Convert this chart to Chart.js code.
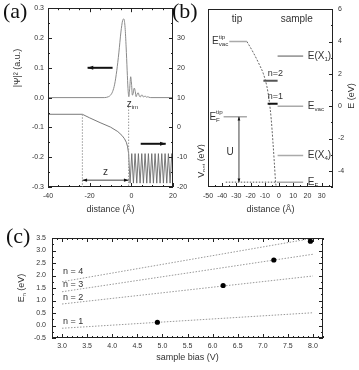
<!DOCTYPE html>
<html>
<head>
<meta charset="utf-8">
<script src="https://cdn.jsdelivr.net/npm/chart.js@4.4.1/dist/chart.umd.min.js"></script>
<style>
  body { margin: 0; background: #fff; }
  #page { position: relative; width: 359px; height: 370px; overflow: hidden; }
  .box { position: absolute; }
</style>
</head>
<body>
<div id="page">
  <div class="box" style="left:0;top:0;width:205px;height:220px"><canvas id="chartA"></canvas></div>
  <div class="box" style="left:170px;top:0;width:189px;height:220px"><canvas id="chartB"></canvas></div>
  <div class="box" style="left:0;top:225px;width:359px;height:145px"><canvas id="chartC"></canvas></div>
</div>
<script>
// (a) |psi|^2 (left axis) and potential (right axis) against distance
const psiDist = [-40, -13, -11, -10, -9, -8, -7, -6, -5, -4.2, -3.6, -3.0, -2.5, -2.0, -1.6, -1.2, -0.8, -0.3, 0.1, 0.5,
  0.9, 1.4, 1.9, 2.3, 2.8, 3.3, 3.8, 4.3, 4.8, 5.3, 5.8, 6.3, 6.8, 7.3, 7.9, 8.5, 9.3, 20];
const psiVal = [0, 0, 0.003, 0.008, 0.02, 0.045, 0.09, 0.15, 0.22, 0.258, 0.264, 0.235, 0.17, 0.09, 0.03, 0.003, 0.03, 0.07, 0.045, 0.008,
  0.015, 0.032, 0.02, 0.003, 0.012, 0.016, 0.006, 0.002, 0.008, 0.008, 0.002, 0.004, 0.005, 0.001, 0.003, 0.001, 0, 0];
const potDist = [-40, -23.5, -20, -15, -10, -6.5, -4.5, -3.3, -2.4, -1.8, -1.3, -0.6, 0.2, 1.0, 1.8, 2.6, 3.4, 4.2, 5.0, 5.8,
  6.6, 7.4, 8.2, 9.0, 9.8, 10.6, 11.4, 12.2, 13.0, 13.8, 14.6, 15.4, 16.2, 17.0, 17.8, 18.6, 19.4, 20];
const potVal = [4.4, 4.4, 3.2, 1.6, 0.1, -1.4, -2.7, -3.8, -5.0, -6.5, -8.8, -18.7, -8.8, -18.7, -8.8, -18.7, -8.8, -18.7, -8.8, -18.7,
  -8.8, -18.7, -8.8, -18.7, -8.8, -18.7, -8.8, -18.7, -8.8, -18.7, -8.8, -18.7, -8.8, -18.7, -8.8, -18.7, -8.8, -14];
const zMarks = [-23.5, -1.3]; // z start, z_im

// (b) energy levels
const levelName = ['E_vac^tip', 'E_F^tip', 'E(X1)', 'n=2', 'n=1', 'E_vac', 'E(X4)', 'E_F'];
const levelE    = [4.0, -0.66, 3.1, 1.57, 0.15, 0.0, -3.05, -4.7];
const levelFrom = [-35, -39, -1, -11, -8, -1, -1, -1.5];
const levelTo   = [-22.6, -22.6, 17, -1, -1, 17, 17, 17];
const profileDist = [-22.6, -18, -14, -11, -8.5, -7, -5.5, -4.3, -3.3, -2.5, -2.0];
const profileE    = [4.0, 3.3, 2.6, 2.0, 1.2, 0.4, -0.8, -2.2, -3.5, -4.6, -5.0];
const efGuide = [-37.5, -2];
const uDist = -28.2;

// (c) E_n against sample bias
const bias   = [4.9, 6.21, 7.22, 7.95];
const energy = [0.13, 1.6, 2.62, 3.37];
const fitName  = ['n = 1', 'n = 2', 'n = 3', 'n = 4'];
const fitBias  = [3.0, 8.0];
const fitStart = [-0.11, 0.86, 1.35, 1.75];
const fitEnd   = [0.51, 1.98, 2.85, 3.49];
const fitLabelE = [0.15, 1.13, 1.62, 2.15];

const SANS = "'Liberation Sans', Arial, Helvetica, sans-serif";
const SERIF = "'Liberation Serif', 'Times New Roman', serif";
const INK = '#222';
const TEXT = '#333';

function axis(pos, min, max, step, size, fmt, pad) {
  return {
    type: 'linear', position: pos, min: min, max: max,
    grid: { display: false, drawTicks: false },
    border: { display: false },
    ticks: { stepSize: step, autoSkip: false, includeBounds: false, maxRotation: 0,
      padding: pad, color: TEXT, font: { size: 7, family: SANS }, callback: fmt },
    afterFit: (s) => { if (s.isHorizontal()) s.height = size; else s.width = size; }
  };
}

function frame(ctx, a) {
  ctx.save();
  ctx.strokeStyle = INK; ctx.lineWidth = 1;
  ctx.strokeRect(Math.round(a.left) + 0.5, Math.round(a.top) + 0.5,
    Math.round(a.right - a.left) - 1, Math.round(a.bottom - a.top) - 1);
  ctx.restore();
}

function tickMarks(ctx, scale, a, minor, major, sides) {
  ctx.save();
  ctx.strokeStyle = INK; ctx.lineWidth = 1;
  const first = Math.ceil(scale.min / minor - 1e-6);
  const last = Math.floor(scale.max / minor + 1e-6);
  for (let i = first; i <= last; i++) {
    const v = i * minor;
    const isMajor = Math.abs(v / major - Math.round(v / major)) < 1e-6;
    const len = isMajor ? 4 : 2;
    const p = Math.round(scale.getPixelForValue(v)) + 0.5;
    ctx.beginPath();
    sides.forEach(s => {
      if (s === 'bottom') { ctx.moveTo(p, a.bottom); ctx.lineTo(p, a.bottom - len); }
      if (s === 'top') { ctx.moveTo(p, a.top); ctx.lineTo(p, a.top + len); }
      if (s === 'left') { ctx.moveTo(a.left, p); ctx.lineTo(a.left + len, p); }
      if (s === 'right') { ctx.moveTo(a.right, p); ctx.lineTo(a.right - len, p); }
    });
    ctx.stroke();
  }
  ctx.restore();
}

// parts: [text, 'sup' | 'sub' | undefined, stack on previous part]
function rich(ctx, parts, x, y, size, align) {
  const place = (x0, draw) => {
    let cx = 0, prevStart = 0;
    for (const [t, pos, stack] of parts) {
      const fs = pos ? size * 0.62 : size;
      ctx.font = fs + 'px ' + SANS;
      const w = ctx.measureText(t).width;
      const start = stack ? prevStart : cx;
      const dy = pos === 'sup' ? -size * 0.42 : pos === 'sub' ? size * 0.32 : 0;
      if (draw) ctx.fillText(t, x0 + start, y + dy);
      cx = Math.max(cx, start + w);
      prevStart = start;
    }
    return cx;
  };
  ctx.save();
  ctx.textAlign = 'left'; ctx.textBaseline = 'middle'; ctx.fillStyle = TEXT;
  const w = place(0, false);
  const x0 = align === 'center' ? x - w / 2 : align === 'right' ? x - w : x;
  place(x0, true);
  ctx.restore();
}

function vtitle(ctx, parts, x, y, size) {
  ctx.save();
  ctx.translate(x, y);
  ctx.rotate(-Math.PI / 2);
  rich(ctx, parts, 0, 0, size, 'center');
  ctx.restore();
}

function arrow(ctx, x1, y1, x2, y2, head, both, width) {
  ctx.save();
  ctx.strokeStyle = '#111'; ctx.fillStyle = '#111'; ctx.lineWidth = width;
  ctx.beginPath(); ctx.moveTo(x1, y1); ctx.lineTo(x2, y2); ctx.stroke();
  const tip = (xa, ya, xb, yb) => {
    const ang = Math.atan2(yb - ya, xb - xa);
    ctx.beginPath();
    ctx.moveTo(xb, yb);
    ctx.lineTo(xb - head * Math.cos(ang - 0.35), yb - head * Math.sin(ang - 0.35));
    ctx.lineTo(xb - head * Math.cos(ang + 0.35), yb - head * Math.sin(ang + 0.35));
    ctx.closePath(); ctx.fill();
  };
  tip(x1, y1, x2, y2);
  if (both) tip(x2, y2, x1, y1);
  ctx.restore();
}

function dotted(ctx, x1, y1, x2, y2, color) {
  ctx.save();
  ctx.setLineDash([1.5, 1.5]); ctx.strokeStyle = color; ctx.lineWidth = 1;
  ctx.beginPath(); ctx.moveTo(x1, y1); ctx.lineTo(x2, y2); ctx.stroke();
  ctx.restore();
}

function panelLetter(ctx, t, x, y) {
  ctx.save();
  ctx.font = '22px ' + SERIF; ctx.fillStyle = '#111';
  ctx.textBaseline = 'top'; ctx.textAlign = 'left';
  ctx.fillText(t, x, y);
  ctx.restore();
}

const common = {
  responsive: true, maintainAspectRatio: false, animation: false, events: [],
  plugins: { legend: { display: false }, tooltip: { enabled: false } }
};

// ---------- (a)
const panelA = {
  id: 'panelA',
  afterDraw(chart) {
    const { ctx, chartArea: a, scales: { x, y, y2 } } = chart;
    frame(ctx, a);
    tickMarks(ctx, x, a, 5, 20, ['bottom', 'top']);
    tickMarks(ctx, y, a, 0.05, 0.1, ['left']);
    tickMarks(ctx, y2, a, 5, 10, ['right']);
    const xs = x.getPixelForValue(zMarks[0]), xi = x.getPixelForValue(zMarks[1]);
    dotted(ctx, xs, y2.getPixelForValue(potVal[1]), xs, a.bottom, '#999');
    dotted(ctx, xi, y.getPixelForValue(-0.03), xi, a.bottom, '#999');
    const ya = y.getPixelForValue(-0.277);
    arrow(ctx, xs, ya, xi, ya, 5, true, 0.8);
    rich(ctx, [['z']], (xs + xi) / 2, y.getPixelForValue(-0.25), 10, 'center');
    rich(ctx, [['z'], ['im', 'sub']], xi - 2, y.getPixelForValue(-0.022), 10, 'left');
    arrow(ctx, x.getPixelForValue(-9), y.getPixelForValue(0.1), x.getPixelForValue(-21), y.getPixelForValue(0.1), 6, false, 2);
    arrow(ctx, x.getPixelForValue(4.5), y2.getPixelForValue(-5.5), x.getPixelForValue(16.5), y2.getPixelForValue(-5.5), 6, false, 2);
    panelLetter(ctx, '(a)', 3, 1);
    rich(ctx, [['distance (\u00c5)']], (a.left + a.right) / 2, 210, 9, 'center');
    vtitle(ctx, [['|\u03a8|\u00b2 (a.u.)']], 18, 68, 9);
    vtitle(ctx, [['V'], ['pot', 'sub'], [' (eV)']], 202, 161, 9);
  }
};

new Chart(document.getElementById('chartA'), {
  type: 'line',
  data: {
    datasets: [
      { data: psiDist.map((d, i) => ({ x: d, y: psiVal[i] })), yAxisID: 'y',
        borderColor: '#8a8a8a', borderWidth: 1, pointRadius: 0, cubicInterpolationMode: 'monotone' },
      { data: potDist.map((d, i) => ({ x: d, y: potVal[i] })), yAxisID: 'y2',
        borderColor: '#6a6a6a', borderWidth: 0.9, pointRadius: 0, tension: 0 }
    ]
  },
  options: Object.assign({}, common, {
    layout: { padding: { top: 5, left: 0, right: 0, bottom: 0 } },
    scales: {
      x: axis('bottom', -40, 20, 20, 33, v => String(v), 5),
      y: axis('left', -0.3, 0.3, 0.1, 48, v => v.toFixed(1), 4),
      y2: axis('right', -20, 40, 10, 32, v => (v >= 40 ? '' : String(v)), 4)
    }
  }),
  plugins: [panelA]
});

// ---------- (b)
const levelStyle = [
  ['#aaa', 1.5], ['#aaa', 1.5], ['#555', 1], ['#555', 2],
  ['#111', 2], ['#aaa', 1.5], ['#aaa', 1.5], ['#aaa', 1.5]
];
const levelText = {
  'E_vac^tip': [['E'], ['tip', 'sup'], ['vac', 'sub', true]],
  'E_F^tip': [['E'], ['tip', 'sup'], ['F', 'sub', true]],
  'E(X1)': [['E(X'], ['1', 'sub'], [')']],
  'n=2': [['n=2']],
  'n=1': [['n=1']],
  'E_vac': [['E'], ['vac', 'sub']],
  'E(X4)': [['E(X'], ['4', 'sub'], [')']],
  'E_F': [['E'], ['F', 'sub']]
};

const panelB = {
  id: 'panelB',
  afterDraw(chart) {
    const { ctx, chartArea: a, scales: { x, y } } = chart;
    frame(ctx, a);
    tickMarks(ctx, x, a, 5, 10, ['bottom']);
    tickMarks(ctx, y, a, 1, 2, ['right']);
    const yF = y.getPixelForValue(levelE[7]);
    dotted(ctx, x.getPixelForValue(efGuide[0]), yF, x.getPixelForValue(efGuide[1]), yF, '#555');
    const xu = x.getPixelForValue(uDist);
    arrow(ctx, xu, y.getPixelForValue(levelE[1]), xu, yF, 4, true, 0.8);
    rich(ctx, [['U']], x.getPixelForValue(-34.5), y.getPixelForValue(-2.85), 10, 'center');
    levelName.forEach((name, i) => {
      const yy = y.getPixelForValue(levelE[i]);
      if (name.indexOf('tip') > 0) {
        rich(ctx, levelText[name], x.getPixelForValue(levelFrom[i]) - 1, yy, 10, 'right');
      } else if (name.charAt(0) === 'n') {
        rich(ctx, levelText[name], x.getPixelForValue(-7.9), yy - 7, 9, 'left');
      } else {
        rich(ctx, levelText[name], x.getPixelForValue(20.2), yy, 10, 'left');
      }
    });
    rich(ctx, [['tip']], x.getPixelForValue(-29.6), y.getPixelForValue(5.35), 10, 'center');
    rich(ctx, [['sample']], x.getPixelForValue(12.5), y.getPixelForValue(5.35), 10, 'center');
    panelLetter(ctx, '(b)', 2, 1);
    rich(ctx, [['distance (\u00c5)']], (a.left + a.right) / 2, 210, 9, 'center');
    vtitle(ctx, [['E (eV)']], 182, 96, 9);
  }
};

new Chart(document.getElementById('chartB'), {
  type: 'line',
  data: {
    datasets: levelName.map((name, i) => ({
      label: name,
      data: [{ x: levelFrom[i], y: levelE[i] }, { x: levelTo[i], y: levelE[i] }],
      borderColor: levelStyle[i][0], borderWidth: levelStyle[i][1], pointRadius: 0
    })).concat([{
      label: 'profile',
      data: profileDist.map((d, i) => ({ x: d, y: profileE[i] })),
      borderColor: '#666', borderWidth: 1, borderDash: [2, 1.5], pointRadius: 0,
      cubicInterpolationMode: 'monotone'
    }])
  },
  options: Object.assign({}, common, {
    layout: { padding: { top: 5, left: 38, right: 0, bottom: 0 } },
    scales: {
      x: axis('bottom', -50, 38, 10, 33, v => String(v), 5),
      y: axis('right', -5, 6, 2, 26, v => String(v), 5)
    }
  }),
  plugins: [panelB]
});

// ---------- (c)
const panelC = {
  id: 'panelC',
  afterDraw(chart) {
    const { ctx, chartArea: a, scales: { x, y } } = chart;
    frame(ctx, a);
    tickMarks(ctx, x, a, 0.1, 0.5, ['bottom', 'top']);
    tickMarks(ctx, y, a, 0.25, 0.5, ['left', 'right']);
    fitName.forEach((t, i) => {
      rich(ctx, [[t]], x.getPixelForValue(3.02), y.getPixelForValue(fitLabelE[i]), 9, 'left');
    });
    panelLetter(ctx, '(c)', 6, 1);
    rich(ctx, [['sample bias (V)']], (a.left + a.right) / 2, 133, 9, 'center');
    vtitle(ctx, [['E'], ['n', 'sub'], [' (eV)']], 22, 63, 9);
  }
};

new Chart(document.getElementById('chartC'), {
  type: 'line',
  data: {
    datasets: [{
      label: 'measured',
      data: bias.map((b, i) => ({ x: b, y: energy[i] })),
      showLine: false, pointRadius: 2.6, pointBackgroundColor: '#000', pointBorderColor: '#000', borderWidth: 0
    }].concat(fitName.map((t, i) => ({
      label: t,
      data: [{ x: fitBias[0], y: fitStart[i] }, { x: fitBias[1], y: fitEnd[i] }],
      borderColor: '#999', borderWidth: 1, borderDash: [1.5, 1.5], pointRadius: 0
    })))
  },
  options: Object.assign({}, common, {
    layout: { padding: { top: 13, left: 0, right: 36, bottom: 0 } },
    scales: {
      x: axis('bottom', 2.8, 8.2, 0.5, 32, v => v.toFixed(1), 4),
      y: axis('left', -0.5, 3.5, 0.5, 52, v => v.toFixed(1), 6)
    }
  }),
  plugins: [panelC]
});
</script>
</body>
</html>
